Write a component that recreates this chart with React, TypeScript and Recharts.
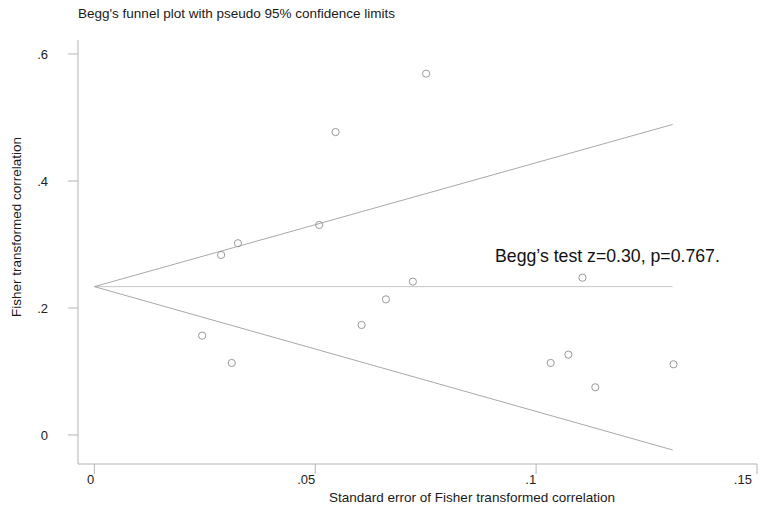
import { ScatterChart, Scatter, XAxis, YAxis } from "recharts";

// study estimates
const studySE = [0.0244, 0.0287, 0.0311, 0.0325, 0.0509, 0.0546, 0.0605, 0.066, 0.0721, 0.0751, 0.1033, 0.1073, 0.1105, 0.1134, 0.1311];
const studyZr = [0.1564, 0.2835, 0.1134, 0.302, 0.3307, 0.477, 0.1732, 0.2136, 0.2415, 0.569, 0.1134, 0.1265, 0.2477, 0.0751, 0.1113];

// pseudo 95% limits and pooled estimate
const funnelSE = [0, 0.1309];
const pooled = [0.2336, 0.2336];
const upperLimit = [0.2336, 0.489];
const lowerLimit = [0.2336, -0.0236];

const xTicks = [0, 0.05, 0.1, 0.15];
const yTicks = [0, 0.2, 0.4, 0.6];

const points = studySE.map((se, i) => ({ x: se, y: studyZr[i] }));
const toLine = (ys: number[]) => funnelSE.map((se, i) => ({ x: se, y: ys[i] }));

const stataNum = (v: number) => (v === 0 ? "0" : String(v).replace(/^0/, ""));

const font = '"Liberation Sans", Arial, sans-serif';
const axisGray = "#b4b4b4";

export default function App() {
  return (
    <div
      style={{
        position: "absolute",
        left: 0,
        top: 0,
        width: 760,
        height: 510,
        background: "#fff",
        fontFamily: font,
      }}
    >
      <ScatterChart width={760} height={510} margin={{ top: 40, right: 3, bottom: 0, left: 0 }}>
        <XAxis
          type="number"
          dataKey="x"
          domain={[-0.0037, 0.15]}
          allowDataOverflow
          ticks={xTicks}
          tickFormatter={stataNum}
          height={46}
          tickSize={10}
          tickMargin={1}
          stroke={axisGray}
          tick={{ fill: "#222", fontSize: 13, textAnchor: "end" }}
        />
        <YAxis
          type="number"
          dataKey="y"
          domain={[-0.0457, 0.622]}
          allowDataOverflow
          ticks={yTicks}
          tickFormatter={stataNum}
          width={78}
          tickSize={10}
          tickMargin={20}
          stroke={axisGray}
          tick={{ fill: "#222", fontSize: 13 }}
        />
        <Scatter
          data={toLine(pooled)}
          line={{ stroke: "#c6c6c6", strokeWidth: 1 }}
          shape={() => <g />}
          isAnimationActive={false}
        />
        <Scatter
          data={toLine(upperLimit)}
          line={{ stroke: "#a9a9a9", strokeWidth: 1 }}
          shape={() => <g />}
          isAnimationActive={false}
        />
        <Scatter
          data={toLine(lowerLimit)}
          line={{ stroke: "#a9a9a9", strokeWidth: 1 }}
          shape={() => <g />}
          isAnimationActive={false}
        />
        <Scatter
          data={points}
          shape={(p: any) => <circle cx={p.cx} cy={p.cy} r={3.6} fill="none" stroke="#9a9a9a" strokeWidth={1} />}
          isAnimationActive={false}
        />
      </ScatterChart>
      <svg
        width={760}
        height={510}
        style={{ position: "absolute", left: 0, top: 0, pointerEvents: "none", fontFamily: font }}
      >
        <text x={78} y={18} fontSize={13.5} fill="#1a1a1a">
          Begg's funnel plot with pseudo 95% confidence limits
        </text>
        <text x={495} y={262} fontSize={17.7} fill="#111">
          Begg’s test z=0.30, p=0.767.
        </text>
        <text x={472} y={502} fontSize={13.5} fill="#1a1a1a" textAnchor="middle">
          Standard error of Fisher transformed correlation
        </text>
        <text x={21} y={227} fontSize={13.5} fill="#1a1a1a" textAnchor="middle" transform="rotate(-90 21 227)">
          Fisher transformed correlation
        </text>
      </svg>
    </div>
  );
}
